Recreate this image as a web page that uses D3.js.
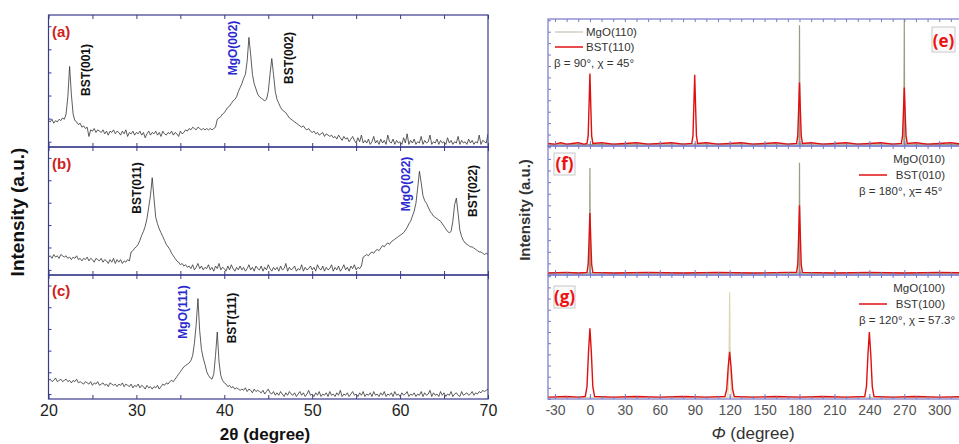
<!DOCTYPE html>
<html><head><meta charset="utf-8">
<script src="https://cdn.jsdelivr.net/npm/d3@7"></script>
<style>body{margin:0;background:#fff}svg{display:block}</style>
</head><body>
<svg id="chart" width="959" height="444"></svg>
<script>
// ---------------- DATA ----------------
// 2theta scans: values read every 0.2 degree starting at 20 (relative intensity, % of panel)
const xrdStart = 20, xrdStep = 0.2;
const xrdA = [
 20,19,21,18,20,19,21,20,22,21,
 25,38,61,40,25,20,19,17,18,15,
 16,14,15,8,13,12,14,11,13,12,
 11,13,10,12,9,12,11,13,10,12,
 11,9,12,10,13,8,11,10,12,9,
 11,10,12,9,11,7,10,12,9,11,
 10,12,9,11,8,12,10,9,11,10,
 12,9,11,10,8,12,10,11,13,12,
 14,13,15,14,13,15,14,13,14,13,
 14,13,14,13,14,15,21,22,23,25,
 26,28,30,31,33,35,36,38,42,45,
 48,52,55,65,83,70,55,48,44,40,
 38,37,36,35,36,42,55,67,55,42,
 36,33,30,28,27,26,24,22,21,20,
 19,18,17,16,15,16,14,13,14,12,
 11,12,10,11,9,10,11,8,10,9,
 8,9,7,8,6,9,7,5,8,6,
 7,4,6,8,5,3,7,4,9,3,
 5,3,6,2,4,8,3,5,2,6,
 3,5,2,9,4,3,6,2,5,3,
 4,2,7,3,10,2,5,3,6,2,
 4,3,8,2,5,3,4,9,2,4,
 3,6,2,5,3,4,2,7,3,5,
 2,4,3,8,2,5,3,4,2,6,
 3,5,2,4,3,9,2,5,4,3,
 10];
const xrdB = [
 14,15,13,16,14,15,13,16,15,14,
 15,13,14,12,14,13,15,12,13,11,
 13,12,14,11,13,12,10,13,12,11,
 13,10,12,11,9,12,10,13,9,12,
 10,12,9,11,10,12,11,18,19,21,
 22,24,27,31,34,38,44,53,62,76,
 60,45,40,36,33,30,27,24,22,20,
 17,15,13,11,10,8,9,7,8,6,
 7,5,8,4,6,9,5,7,4,6,
 5,8,4,6,3,7,5,9,4,6,
 5,3,7,4,8,5,3,6,4,7,
 4,6,3,5,8,4,6,3,7,5,
 4,7,3,6,4,8,5,3,6,4,
 6,3,7,4,5,9,3,6,4,5,
 7,3,5,4,8,3,6,4,5,7,
 4,6,3,8,5,4,7,3,6,4,
 5,8,3,6,4,7,3,5,8,4,
 6,3,7,5,8,4,6,5,7,14,
 15,16,15,17,18,17,19,20,19,21,
 23,22,24,25,24,26,27,28,29,30,
 31,32,33,35,37,40,42,46,50,56,
 68,81,72,62,58,56,53,50,48,46,
 45,44,43,42,40,38,36,34,33,34,
 42,55,60,48,35,30,27,25,24,23,
 22,22,21,20,19,18,18,17,16,17,
 16];
const xrdC = [
 15,16,14,15,17,14,15,16,14,15,
 16,14,15,13,15,14,16,13,14,13,
 12,14,13,12,14,11,13,12,14,11,
 12,13,11,12,10,13,12,11,12,10,
 12,11,13,10,12,11,10,12,9,11,
 10,12,9,11,10,8,11,9,10,8,
 10,9,11,8,10,12,11,13,12,14,
 15,14,16,18,20,22,24,26,27,28,
 29,31,35,45,60,81,55,40,33,28,
 22,19,17,16,20,35,54,30,19,15,
 13,12,10,11,9,10,8,9,8,7,
 8,7,9,6,8,7,5,8,6,7,
 6,5,7,4,6,8,5,4,6,3,
 5,3,6,4,2,5,3,6,4,3,
 5,2,4,6,3,5,2,4,7,3,
 4,2,5,3,6,2,4,3,5,2,
 6,3,4,2,5,3,7,2,4,3,
 5,2,4,6,3,4,2,5,3,6,
 2,4,3,5,2,6,3,4,2,5,
 3,6,2,4,3,5,2,6,3,4,
 2,5,3,4,6,2,4,3,5,2,
 4,3,6,2,5,3,4,7,2,5,
 3,4,2,6,3,5,2,4,3,6,
 2,4,5,3,2,6,3,4,5,3,
 4,6,3,5,4,6,5,7,6,7,
 8];
const xrdTicks = [20, 30, 40, 50, 60, 70];
const xrdLabelsA = ["BST(001)", "MgO(002)", "BST(002)"];
const xrdLabelsB = ["BST(011)", "MgO(022)", "BST(022)"];
const xrdLabelsC = ["MgO(111)", "BST(111)"];

// phi scans: [phi (degree), relative intensity %]
const phiE_MgO = [[-36,1],[60,1.5],[179.6,1.5],[180,95],[180.4,1.5],[269.6,1.5],[270,100],[270.4,1.5],[330,1]];
const phiE_BST = [[-36,2],[-30,1.5],[-25,2.5],[-20,1.5],[-15,2],[-10,2.5],[-5,1.5],
 [-2.5,2],[-1.5,8],[-0.8,30],[0,57],[0.8,30],[1.5,8],[2.5,2],
 [10,2.5],[20,1.5],[30,2],[40,2.5],[50,1.5],[60,2],[70,2.5],[80,1.5],
 [87.5,2],[88.5,8],[89.2,30],[90,56],[90.8,30],[91.5,8],[92.5,2],
 [100,2.5],[110,1.5],[120,2],[130,2.5],[140,1.5],[150,2],[160,2.5],[170,1.5],
 [177.5,2],[178.5,8],[179.2,27],[180,50],[180.8,27],[181.5,8],[182.5,2],
 [190,2.5],[200,1.5],[210,2],[220,2.5],[230,1.5],[240,2],[250,2.5],[260,1.5],
 [267.5,2],[268.5,8],[269.2,25],[270,46],[270.8,25],[271.5,8],[272.5,2],
 [280,2.5],[290,1.5],[300,2],[310,2.5],[320,1.5],[330,2]];
const phiF_MgO = [[-36,1.5],[-0.4,1.5],[0,83],[0.4,1.5],[179.6,1.5],[180,87],[180.4,1.5],[330,1.5]];
const phiF_BST = [[-36,1.5],[-20,2],[-10,1.5],[-2.5,2],[-1.5,8],[-0.8,26],[0,48],[0.8,26],[1.5,8],[2.5,2],
 [20,1.5],[50,2],[80,1.5],[110,2],[140,1.5],[170,2],
 [177.5,2],[178.5,8],[179.2,28],[180,54],[180.8,28],[181.5,8],[182.5,2],
 [210,1.5],[240,2],[270,1.5],[300,2],[330,1.5]];
const phiG_MgO = [[-36,1],[118.5,1.5],[119.5,30],[120,86],[120.5,30],[121.5,1.5],[330,1]];
const phiG_BST = [[-36,1.5],[-20,2],[-10,1.5],[-4,2],[-2.5,10],[-1.2,38],[0,57],[1.2,38],[2.5,10],[4,2],
 [20,1.5],[40,2],[60,1.5],[80,2],[100,1.5],[116,2],[117.5,8],[118.8,26],[120,38],[121.2,26],[122.5,8],[124,2],
 [140,1.5],[160,2],[180,1.5],[200,2],[220,1.5],[236,2],[237.5,10],[238.8,36],[240,54],[241.2,36],[242.5,10],[244,2],
 [260,1.5],[280,2],[300,1.5],[330,2]];
const phiTicks = [-30, 0, 30, 60, 90, 120, 150, 180, 210, 240, 270, 300];
const legendE = ["MgO(110)", "BST(110)", "β = 90°, χ = 45°"];
const legendF = ["MgO(010)", "BST(010)", "β = 180°, χ= 45°"];
const legendG = ["MgO(100)", "BST(100)", "β = 120°, χ = 57.3°"];

// ---------------- DRAW ----------------
const svg = d3.select("#chart");
const FONT = "'Liberation Sans', Arial, sans-serif";
const LFRAME = "#3a3a8c", RFRAME = "#7878c8";
const BLUE = "#2a2ad0", RED = "#e01010";

const xL = d3.scaleLinear().domain([20, 70]).range([48.5, 488]);
const xR = d3.scaleLinear().domain([-36, 323]).range([548, 966]);

const leftPanels = [
  {top: 15, bot: 147, data: xrdA, tag: "(a)", tagY: 37,
   labels: [{t: xrdLabelsA[0], x: 24.2, y: 70, c: "#111"}, {t: xrdLabelsA[1], x: 41.0, y: 48, c: BLUE}, {t: xrdLabelsA[2], x: 47.3, y: 58, c: "#111"}]},
  {top: 147, bot: 275, data: xrdB, tag: "(b)", tagY: 169,
   labels: [{t: xrdLabelsB[0], x: 30.1, y: 188, c: "#111"}, {t: xrdLabelsB[1], x: 60.6, y: 184, c: BLUE}, {t: xrdLabelsB[2], x: 68.3, y: 191, c: "#111"}]},
  {top: 275, bot: 399, data: xrdC, tag: "(c)", tagY: 296,
   labels: [{t: xrdLabelsC[0], x: 35.3, y: 312, c: BLUE}, {t: xrdLabelsC[1], x: 40.9, y: 318, c: "#111"}]}
];

leftPanels.forEach((p, i) => {
  const y = d3.scaleLinear().domain([0, 100]).range([p.bot, p.top]);
  const id = "clipL" + i;
  svg.append("clipPath").attr("id", id).append("rect")
    .attr("x", xL(20)).attr("y", p.top).attr("width", xL(70) - xL(20)).attr("height", p.bot - p.top);
  const line = d3.line().x((d, k) => xL(xrdStart + k * xrdStep)).y(d => y(d));
  svg.append("path").datum(p.data).attr("clip-path", `url(#${id})`)
    .attr("d", line).attr("fill", "none").attr("stroke", "#333").attr("stroke-width", 0.8);

  const minor = d3.range(20, 70.1, 5);
  svg.append("g").attr("transform", `translate(0,${p.bot})`)
    .call(d3.axisBottom(xL).tickValues(minor).tickSize(-4).tickFormat(""))
    .call(g => g.selectAll("line").attr("stroke", LFRAME)).call(g => g.select(".domain").remove());
  svg.append("g").attr("transform", `translate(0,${p.top})`)
    .call(d3.axisTop(xL).tickValues(minor).tickSize(-4).tickFormat(""))
    .call(g => g.selectAll("line").attr("stroke", LFRAME)).call(g => g.select(".domain").remove());
  svg.append("g").attr("transform", `translate(${xL(20)},0)`)
    .call(d3.axisLeft(y).tickValues(d3.range(4, 100, 17.5)).tickSize(-3).tickFormat(""))
    .call(g => g.selectAll("line").attr("stroke", LFRAME)).call(g => g.select(".domain").remove());

  svg.append("rect").attr("x", xL(20)).attr("y", p.top).attr("width", xL(70) - xL(20)).attr("height", p.bot - p.top)
    .attr("fill", "none").attr("stroke", LFRAME).attr("stroke-width", 1.2);

  svg.append("text").attr("x", 52).attr("y", p.tagY).text(p.tag)
    .attr("font-family", FONT).attr("font-weight", "bold").attr("font-size", 15).attr("fill", "#d02020");

  p.labels.forEach(l => {
    svg.append("text").attr("transform", `translate(${xL(l.x)},${l.y}) rotate(-90)`)
      .attr("text-anchor", "middle").attr("dy", "0.35em").text(l.t)
      .attr("font-family", FONT).attr("font-weight", "bold").attr("font-size", 12).attr("fill", l.c);
  });
});

svg.append("g").attr("transform", `translate(0,399)`)
  .call(d3.axisBottom(xL).tickValues(xrdTicks).tickSize(0).tickPadding(6))
  .call(g => g.select(".domain").remove())
  .call(g => g.selectAll("text").attr("font-family", FONT).attr("font-size", 16).attr("fill", "#222"));

svg.append("text").attr("x", 265).attr("y", 440).attr("text-anchor", "middle")
  .attr("font-family", FONT).attr("font-weight", "bold").attr("font-size", 17).attr("fill", "#111")
  .text("2θ (degree)");
svg.append("text").attr("transform", "translate(24,212) rotate(-90)").attr("text-anchor", "middle")
  .attr("font-family", FONT).attr("font-weight", "bold").attr("font-size", 19).attr("fill", "#111")
  .text("Intensity (a.u.)");

// ---------------- RIGHT ----------------
const rightPanels = [
  {top: 19, bot: 146, mgo: phiE_MgO, bst: phiE_BST, mgoColor: "#9c9c80", legend: legendE, align: "left",
   tag: "(e)", tagBox: [932, 27, 23, 25]},
  {top: 146, bot: 275, mgo: phiF_MgO, bst: phiF_BST, mgoColor: "#9c9c80", legend: legendF, align: "right",
   tag: "(f)", tagBox: [554, 153, 21, 22]},
  {top: 275, bot: 399, mgo: phiG_MgO, bst: phiG_BST, mgoColor: "#ddd6b4", legend: legendG, align: "right",
   tag: "(g)", tagBox: [554, 286, 21, 22]}
];

rightPanels.forEach((p, i) => {
  const y = d3.scaleLinear().domain([0, 100]).range([p.bot, p.top]);
  const id = "clipR" + i;
  svg.append("clipPath").attr("id", id).append("rect")
    .attr("x", xR(-36)).attr("y", p.top).attr("width", xR(323) - xR(-36)).attr("height", p.bot - p.top);
  const line = d3.line().x(d => xR(d[0])).y(d => y(d[1]));
  svg.append("path").datum(p.mgo).attr("clip-path", `url(#${id})`).attr("d", line)
    .attr("fill", "none").attr("stroke", p.mgoColor).attr("stroke-width", 1.2);
  svg.append("path").datum(p.bst).attr("clip-path", `url(#${id})`).attr("d", line)
    .attr("fill", "none").attr("stroke", RED).attr("stroke-width", 1.4);

  const minor = d3.range(-30, 323, 10);
  svg.append("g").attr("transform", `translate(0,${p.bot})`)
    .call(d3.axisBottom(xR).tickValues(minor).tickSize(-3).tickFormat(""))
    .call(g => g.selectAll("line").attr("stroke", RFRAME)).call(g => g.select(".domain").remove());
  svg.append("g").attr("transform", `translate(0,${p.bot})`)
    .call(d3.axisBottom(xR).tickValues(phiTicks).tickSize(-5).tickFormat(""))
    .call(g => g.selectAll("line").attr("stroke", RFRAME)).call(g => g.select(".domain").remove());
  svg.append("g").attr("transform", `translate(0,${p.top})`)
    .call(d3.axisTop(xR).tickValues(minor).tickSize(-3).tickFormat(""))
    .call(g => g.selectAll("line").attr("stroke", RFRAME)).call(g => g.select(".domain").remove());
  svg.append("g").attr("transform", `translate(${xR(-36)},0)`)
    .call(d3.axisLeft(y).tickValues(d3.range(0, 100, 9)).tickSize(-3).tickFormat(""))
    .call(g => g.selectAll("line").attr("stroke", RFRAME)).call(g => g.select(".domain").remove());

  svg.append("rect").attr("x", xR(-36)).attr("y", p.top).attr("width", xR(323) - xR(-36)).attr("height", p.bot - p.top)
    .attr("fill", "none").attr("stroke", RFRAME).attr("stroke-width", 1.2);

  const fs = 11.5;
  if (p.align === "left") {
    const lx = 555, ly = p.top + 13;
    svg.append("line").attr("x1", lx).attr("x2", lx + 28).attr("y1", ly).attr("y2", ly).attr("stroke", "#cfcfc4").attr("stroke-width", 1.5);
    svg.append("line").attr("x1", lx).attr("x2", lx + 28).attr("y1", ly + 15).attr("y2", ly + 15).attr("stroke", RED).attr("stroke-width", 1.5);
    svg.append("text").attr("x", lx + 31).attr("y", ly + 4).text(p.legend[0]).attr("font-family", FONT).attr("font-size", fs).attr("fill", "#333");
    svg.append("text").attr("x", lx + 31).attr("y", ly + 19).text(p.legend[1]).attr("font-family", FONT).attr("font-size", fs).attr("fill", "#333");
    svg.append("text").attr("x", 554).attr("y", ly + 35).text(p.legend[2]).attr("font-family", FONT).attr("font-size", fs).attr("fill", "#333");
  } else {
    const rx = 945, ly = p.top + 13;
    svg.append("line").attr("x1", 859).attr("x2", 887).attr("y1", ly + 16).attr("y2", ly + 16).attr("stroke", RED).attr("stroke-width", 1.5);
    svg.append("text").attr("x", rx).attr("y", ly + 4).attr("text-anchor", "end").text(p.legend[0]).attr("font-family", FONT).attr("font-size", fs).attr("fill", "#333");
    svg.append("text").attr("x", rx).attr("y", ly + 20).attr("text-anchor", "end").text(p.legend[1]).attr("font-family", FONT).attr("font-size", fs).attr("fill", "#333");
    svg.append("text").attr("x", 859).attr("y", ly + 36).text(p.legend[2]).attr("font-family", FONT).attr("font-size", fs).attr("fill", "#333");
  }

  const [bx, by, bw, bh] = p.tagBox;
  svg.append("rect").attr("x", bx).attr("y", by).attr("width", bw).attr("height", bh)
    .attr("fill", "#fafafa").attr("stroke", "#c8c8c8").attr("stroke-width", 1);
  svg.append("text").attr("x", bx + bw / 2).attr("y", by + bh - 5).attr("text-anchor", "middle").text(p.tag)
    .attr("font-family", "'Open Sans', sans-serif").attr("font-weight", "bold").attr("font-size", 17).attr("fill", "#ee1111");
});

svg.append("g").attr("transform", `translate(0,399)`)
  .call(d3.axisBottom(xR).tickValues(phiTicks).tickSize(0).tickPadding(6).tickFormat(d => String(d)))
  .call(g => g.select(".domain").remove())
  .call(g => g.selectAll("text").attr("font-family", FONT).attr("font-size", 14).attr("fill", "#555"));

const xl = svg.append("text").attr("x", 753).attr("y", 439).attr("text-anchor", "middle")
  .attr("font-family", FONT).attr("font-size", 17).attr("fill", "#333");
xl.append("tspan").attr("font-style", "italic").text("Φ");
xl.append("tspan").text(" (degree)");

svg.append("text").attr("transform", "translate(530,210) rotate(-90)").attr("text-anchor", "middle")
  .attr("font-family", FONT).attr("font-weight", "bold").attr("font-size", 15).attr("fill", "#333")
  .text("Intensity (a.u.)");
</script>
</body></html>
